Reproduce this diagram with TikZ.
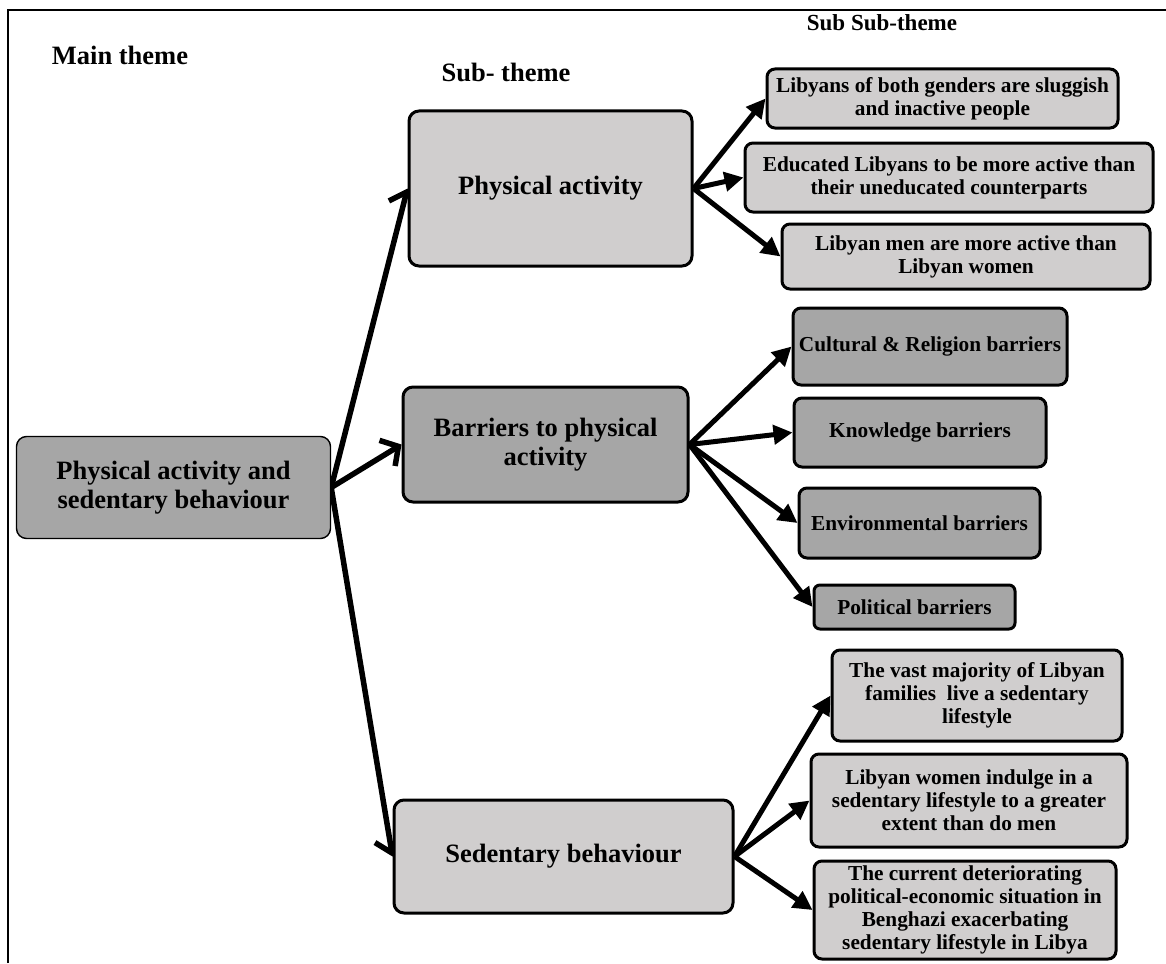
\documentclass[tikz,border=0pt]{standalone}
\usepackage{fontspec}
\setmainfont{Liberation Serif}
\usetikzlibrary{arrows.meta,backgrounds}
\definecolor{boxlight}{HTML}{D0CECE}
\definecolor{boxdark}{HTML}{A6A6A6}

\begin{document}
\begin{tikzpicture}[x=1pt,y=-1pt,
  headlbl/.style={inner sep=0pt, anchor=base, font=\fontsize{26.5}{28}\selectfont\bfseries},
  bigbox/.style={draw=black, line width=3pt, rounded corners=10pt, align=center,
    inner sep=0pt, font=\fontsize{26.5}{28.5}\selectfont\bfseries},
  smallbox/.style={draw=black, line width=3pt, rounded corners=8pt, align=center,
    inner sep=0pt, font=\fontsize{21.3}{23}\selectfont\bfseries},
  mainlink/.style={line width=5.5pt, -{Straight Barb[length=13pt,width=30pt]}},
  sublink/.style={line width=5pt, -{Triangle[length=19pt,width=19pt]}},
]
\useasboundingbox (0,0) rectangle (1166,963);

% frame
\draw[line width=2.2pt] (8,963) -- (8,10) -- (1166,10);

% column headings
\node[headlbl] (hmain) at (120,65) {Main theme};
\node[headlbl] (hsub) at (506,82) {Sub- theme};
\node[headlbl, font=\fontsize{23}{25}\selectfont\bfseries] (hsubsub) at (882,31) {Sub Sub-theme};

% main theme
\node[bigbox, line width=1.4pt, fill=boxdark, minimum width=314pt, minimum height=102pt]
  (main) at (173.5,487.5) {Physical activity and\\sedentary behaviour};

% sub-themes
\node[bigbox, fill=boxlight, minimum width=283pt, minimum height=155pt]
  (pa) at (550.5,188.5) {Physical activity};
\node[bigbox, fill=boxdark, minimum width=285pt, minimum height=115pt]
  (bar) at (545.5,444.5) {Barriers to physical\\activity};
\node[bigbox, fill=boxlight, minimum width=339pt, minimum height=113pt]
  (sed) at (563.5,856.5) {Sedentary behaviour};

% sub sub-themes: physical activity
\node[smallbox, fill=boxlight, minimum width=351pt, minimum height=59pt]
  (b1) at (942.5,98.5) {Libyans of both genders are sluggish\\and inactive people};
\node[smallbox, fill=boxlight, minimum width=408pt, minimum height=69pt]
  (b2) at (949,177.5) {Educated Libyans to be more active than\\their uneducated counterparts};
\node[smallbox, fill=boxlight, minimum width=368pt, minimum height=65pt]
  (b3) at (966,256.5) {Libyan men are more active than\\Libyan women};

% sub sub-themes: barriers
\node[smallbox, fill=boxdark, minimum width=274pt, minimum height=77pt]
  (b4) at (930,346.5) {Cultural \& Religion barriers};
\node[smallbox, fill=boxdark, minimum width=252pt, minimum height=69pt]
  (b5) at (920,432.5) {Knowledge barriers};
\node[smallbox, fill=boxdark, minimum width=241pt, minimum height=70pt]
  (b6) at (919.5,523) {Environmental barriers};
\node[smallbox, fill=boxdark, minimum width=201pt, minimum height=44pt, rounded corners=6pt]
  (b7) at (914.5,607) {Political barriers};

% sub sub-themes: sedentary behaviour
\node[smallbox, fill=boxlight, minimum width=290pt, minimum height=91pt]
  (b8) at (977,695.5) {The vast majority of Libyan\\families~ live a sedentary\\lifestyle};
\node[smallbox, fill=boxlight, minimum width=316pt, minimum height=93pt]
  (b9) at (969,800.5) {Libyan women indulge in a\\sedentary lifestyle to a greater\\extent than do men};
\node[smallbox, fill=boxlight, minimum width=302pt, minimum height=98pt]
  (b10) at (965,910) {The current deteriorating\\political-economic situation in\\Benghazi exacerbating\\sedentary lifestyle in Libya};

% connectors, kept beneath the boxes
\begin{pgfonlayer}{background}
  \draw[mainlink] (main.east) -- (pa.west);
  \draw[mainlink] (main.east) -- (bar.west);
  \draw[mainlink] (main.east) -- (sed.west);

  \draw[sublink] (pa.east) -- (b1.west);
  \draw[sublink] (pa.east) -- (b2.west);
  \draw[sublink] (pa.east) -- (b3.west);

  \draw[sublink] (bar.east) -- (b4.west);
  \draw[sublink] (bar.east) -- (b5.west);
  \draw[sublink] (bar.east) -- (b6.west);
  \draw[sublink] (bar.east) -- (b7.west);

  \draw[sublink] (sed.east) -- (b8.west);
  \draw[sublink] (sed.east) -- (b9.west);
  \draw[sublink] (sed.east) -- (b10.west);
\end{pgfonlayer}
\end{tikzpicture}
\end{document}
